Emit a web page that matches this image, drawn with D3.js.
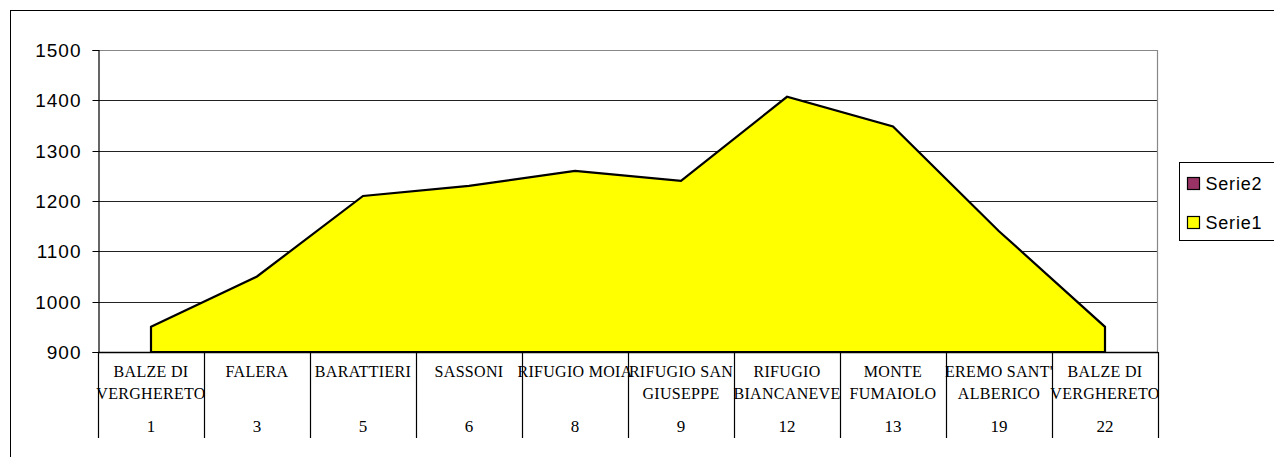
<!DOCTYPE html>
<html>
<head>
<meta charset="utf-8">
<script src="https://cdn.jsdelivr.net/npm/d3@7/dist/d3.min.js"></script>
<style>
  html, body { margin: 0; padding: 0; background: #fff; }
  svg { display: block; }
</style>
</head>
<body>
<div id="chart"></div>
<script>
// Stage names (two lines each) and the km marker shown under each one
const stageNames = [
  ['BALZE DI', 'VERGHERETO'],
  ['FALERA'],
  ['BARATTIERI'],
  ['SASSONI'],
  ['RIFUGIO MOIA'],
  ['RIFUGIO SAN', 'GIUSEPPE'],
  ['RIFUGIO', 'BIANCANEVE'],
  ['MONTE', 'FUMAIOLO'],
  ["EREMO SANT'", 'ALBERICO'],
  ['BALZE DI', 'VERGHERETO']
];
const stageKm = ['1', '3', '5', '6', '8', '9', '12', '13', '19', '22'];

// Serie1 altitude values (m)
const serie1 = [950, 1050, 1210, 1230, 1260, 1240, 1407, 1348, 1140, 950];

const yTicks = [900, 1000, 1100, 1200, 1300, 1400, 1500];
const legendItems = [
  { label: 'Serie2', color: '#993366' },
  { label: 'Serie1', color: '#ffff00' }
];

const width = 1274, height = 457;
const plot = { left: 98, right: 1158, top: 50, bottom: 352 };

const svg = d3.select('#chart').append('svg')
  .attr('width', width)
  .attr('height', height);

// outer chart border
svg.append('rect')
  .attr('x', 10.5).attr('y', 10.5)
  .attr('width', 1300).attr('height', 500)
  .attr('fill', '#fff')
  .attr('stroke', '#000')
  .attr('stroke-width', 1);

const x = d3.scaleBand()
  .domain(d3.range(serie1.length))
  .range([plot.left, plot.right])
  .padding(0);

const y = d3.scaleLinear()
  .domain([900, 1500])
  .range([plot.bottom, plot.top]);

// grid lines
svg.append('g')
  .selectAll('line')
  .data(yTicks.filter(d => d > 900 && d < 1500))
  .enter().append('line')
  .attr('x1', plot.left)
  .attr('x2', plot.right)
  .attr('y1', d => Math.round(y(d)) + 0.5)
  .attr('y2', d => Math.round(y(d)) + 0.5)
  .attr('stroke', '#222')
  .attr('stroke-width', 1);

// plot area border (top / right in gray)
svg.append('path')
  .attr('d', `M${plot.left},${plot.top + 0.5}H${plot.right - 0.5}V${plot.bottom}`)
  .attr('fill', 'none')
  .attr('stroke', '#888')
  .attr('stroke-width', 1.2);

// area for Serie1
const area = d3.area()
  .x((d, i) => x(i) + x.bandwidth() / 2)
  .y0(y(900))
  .y1(d => y(d));

svg.append('path')
  .datum(serie1)
  .attr('d', area)
  .attr('fill', '#ffff00')
  .attr('stroke', '#000')
  .attr('stroke-width', 2.2)
  .attr('stroke-linejoin', 'miter');

// y axis
const yAxis = svg.append('g')
  .attr('transform', `translate(${plot.left + 0.5},0)`)
  .call(d3.axisLeft(y).tickValues(yTicks).tickSize(6).tickPadding(11).tickFormat(d3.format('d')));
yAxis.select('.domain').attr('stroke', '#000').attr('stroke-width', 1.2);
yAxis.selectAll('.tick line').attr('stroke', '#000');
yAxis.selectAll('.tick text')
  .attr('font-family', 'Liberation Sans, Arial, sans-serif')
  .attr('font-size', 19)
  .attr('letter-spacing', 1)
  .attr('fill', '#000');
yAxis.selectAll('.tick')
  .attr('transform', d => `translate(0,${Math.round(y(d)) + 0.5})`);

// category axis line
svg.append('line')
  .attr('x1', plot.left).attr('x2', plot.right)
  .attr('y1', plot.bottom + 0.5).attr('y2', plot.bottom + 0.5)
  .attr('stroke', '#000').attr('stroke-width', 1.5);

// category dividers
const edges = d3.range(serie1.length + 1).map(i => i < serie1.length ? x(i) : x(i - 1) + x.bandwidth());
svg.append('g')
  .selectAll('line')
  .data(edges)
  .enter().append('line')
  .attr('x1', d => Math.round(d) + 0.5)
  .attr('x2', d => Math.round(d) + 0.5)
  .attr('y1', plot.bottom)
  .attr('y2', 438)
  .attr('stroke', '#000')
  .attr('stroke-width', 1.2);

// category labels
const cat = svg.append('g')
  .attr('font-family', 'Liberation Serif, Times New Roman, serif')
  .attr('font-size', 16)
  .attr('fill', '#000')
  .attr('text-anchor', 'middle');

stageNames.forEach((lines, i) => {
  const cx = x(i) + x.bandwidth() / 2;
  lines.forEach((ln, j) => {
    cat.append('text')
      .attr('x', cx)
      .attr('y', 377 + j * 22)
      .attr('letter-spacing', 0.3)
      .text(ln);
  });
  cat.append('text')
    .attr('x', cx)
    .attr('y', 432)
    .attr('font-size', 17)
    .text(stageKm[i]);
});

// legend
const lg = svg.append('g').attr('transform', 'translate(1179.5,162.5)');
lg.append('rect')
  .attr('width', 110).attr('height', 78)
  .attr('fill', '#fff')
  .attr('stroke', '#000')
  .attr('stroke-width', 1);
legendItems.forEach((item, i) => {
  lg.append('rect')
    .attr('x', 8).attr('y', 15 + i * 39)
    .attr('width', 12).attr('height', 12)
    .attr('fill', item.color)
    .attr('stroke', '#000')
    .attr('stroke-width', 1.2);
  lg.append('text')
    .attr('x', 26).attr('y', 27 + i * 39)
    .attr('font-family', 'Liberation Sans, Arial, sans-serif')
    .attr('font-size', 18)
    .attr('letter-spacing', 0.8)
    .attr('fill', '#000')
    .text(item.label);
});
</script>
</body>
</html>
